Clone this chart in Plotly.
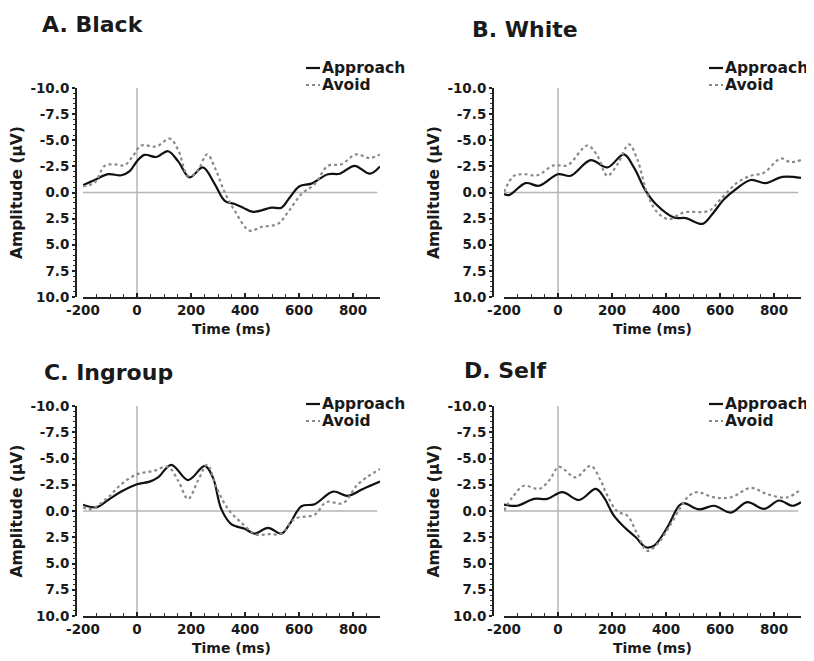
import plotly.graph_objects as go

W, H = 814, 661
PAGE_OFFSET = 8  # the page body margin shifts the figure by 8 px; compensate

# ---------------- data ----------------
panel_titles = ["A. Black", "B. White", "C. Ingroup", "D. Self"]
series_names = ["Approach", "Avoid"]
x_tickvals = [-200, 0, 200, 400, 600, 800]
x_ticktext = ["-200", "0", "200", "400", "600", "800"]
y_tickvals = [-10, -7.5, -5, -2.5, 0, 2.5, 5, 7.5, 10]
y_ticktext = ["-10.0", "-7.5", "-5.0", "-2.5", "0.0", "2.5", "5.0", "7.5", "10.0"]

black_approach_t = [-200, -157, -107, -58, -27, 0, 28, 72, 115, 152, 195, 244, 288, 325, 362, 393, 430, 498, 535, 565, 602, 646, 707, 751, 806, 862, 900]
black_approach_v = [-0.7, -1.2, -1.75, -1.65, -2.05, -3.0, -3.6, -3.4, -3.95, -3.0, -1.45, -2.4, -0.8, 0.8, 1.1, 1.45, 1.85, 1.45, 1.45, 0.5, -0.6, -0.85, -1.75, -1.8, -2.55, -1.8, -2.5]
black_avoid_t = [-200, -157, -120, -83, -46, -15, 16, 72, 121, 152, 189, 220, 260, 288, 325, 362, 417, 460, 522, 559, 609, 658, 707, 757, 812, 862, 900]
black_avoid_v = [-0.6, -0.95, -2.55, -2.7, -2.6, -3.5, -4.5, -4.4, -5.15, -4.1, -1.6, -1.9, -3.65, -2.4, 0.0, 1.75, 3.65, 3.3, 3.0, 1.9, 0.15, -0.8, -2.55, -2.7, -3.65, -3.3, -3.65]

white_approach_t = [-200, -181, -120, -70, 0, 47, 121, 183, 244, 281, 325, 362, 430, 473, 535, 572, 615, 658, 714, 769, 831, 900]
white_approach_v = [0.15, 0.25, -0.9, -0.65, -1.75, -1.6, -3.1, -2.4, -3.65, -2.4, -0.15, 1.1, 2.4, 2.45, 3.0, 2.05, 0.65, -0.3, -1.2, -0.9, -1.5, -1.4]
white_avoid_t = [-200, -163, -126, -77, -15, 35, 109, 146, 183, 220, 263, 294, 331, 368, 410, 467, 559, 602, 664, 714, 763, 825, 862, 900]
white_avoid_v = [-0.05, -1.6, -1.75, -1.65, -2.6, -2.6, -4.5, -3.5, -1.6, -2.7, -4.6, -3.15, 0.15, 1.9, 2.55, 1.9, 1.75, 0.65, -0.95, -1.6, -1.9, -3.25, -2.9, -3.1]

ingroup_approach_t = [-200, -151, -107, -58, 0, 47, 78, 127, 189, 251, 281, 312, 349, 399, 436, 485, 535, 565, 609, 658, 726, 781, 837, 900]
ingroup_approach_v = [-0.6, -0.35, -1.05, -1.85, -2.55, -2.8, -3.2, -4.4, -2.95, -4.3, -3.2, -0.2, 1.25, 1.7, 2.15, 1.6, 2.15, 1.25, -0.45, -0.65, -1.85, -1.45, -2.1, -2.8]
ingroup_avoid_t = [-200, -169, -107, -58, 0, 59, 115, 152, 189, 226, 260, 294, 337, 386, 442, 485, 535, 584, 658, 701, 763, 818, 900]
ingroup_avoid_v = [-0.35, -0.2, -1.3, -2.55, -3.5, -3.8, -4.2, -2.9, -1.15, -2.9, -4.4, -2.25, -0.2, 1.1, 2.25, 2.2, 2.15, 0.75, 0.35, -0.85, -0.75, -2.55, -4.0]

self_approach_t = [-200, -151, -89, -40, 16, 78, 140, 170, 207, 244, 288, 325, 356, 405, 448, 467, 522, 578, 640, 701, 763, 819, 868, 900]
self_approach_v = [-0.6, -0.5, -1.15, -1.15, -1.8, -1.05, -2.1, -1.3, 0.45, 1.5, 2.5, 3.45, 3.3, 1.55, -0.5, -0.75, -0.15, -0.5, 0.15, -0.85, -0.2, -1.0, -0.5, -0.85]
self_avoid_t = [-200, -169, -126, -70, -33, 4, 65, 121, 158, 183, 220, 257, 294, 331, 368, 411, 454, 485, 516, 578, 640, 714, 775, 849, 900]
self_avoid_v = [-0.05, -1.3, -2.4, -2.1, -2.9, -4.2, -3.2, -4.3, -2.9, -1.45, 0.05, 0.45, 2.2, 3.8, 3.15, 1.55, -0.35, -1.45, -1.8, -1.3, -1.3, -2.2, -1.6, -1.3, -2.1]

panels_data = [
    (black_approach_t, black_approach_v, black_avoid_t, black_avoid_v),
    (white_approach_t, white_approach_v, white_avoid_t, white_avoid_v),
    (ingroup_approach_t, ingroup_approach_v, ingroup_avoid_t, ingroup_avoid_v),
    (self_approach_t, self_approach_v, self_avoid_t, self_avoid_v),
]

# ---------------- layout geometry (screen pixels) ----------------
FONT = "DejaVu Sans"
INK = "#1a1a1a"
APPROACH_STYLE = dict(color="#111111", width=2.2)
AVOID_STYLE = dict(color="#8a8a8a", width=2.2, dash="dot")
# (x0, x1, yaxis_x, y_top, y_bottom, title_x, title_y, legend_x, legend_y1, legend_y2)
geom = [
    (83, 380, 76, 88, 297, 40, 24, 322, 68, 85),
    (504, 801, 493, 88, 297, 470, 30, 725, 68, 85),
    (83, 380, 76, 406, 616, 42, 373, 322, 404, 421),
    (504, 801, 493, 406, 616, 462, 370, 725, 404, 421),
]

def fx(px):
    return (px - PAGE_OFFSET) / W

def fy(py):
    return 1 - (py - PAGE_OFFSET) / H

fig = go.Figure()
layout = dict(
    width=W, height=H,
    margin=dict(l=0, r=0, t=0, b=0, pad=0, autoexpand=False),
    paper_bgcolor="white", plot_bgcolor="white",
    showlegend=False,
    font=dict(family=FONT, color=INK),
)
annotations = []
shapes = []

for i, (data, g, title) in enumerate(zip(panels_data, geom, panel_titles)):
    n = i + 1
    xa = "x" if n == 1 else f"x{n}"
    ya = "y" if n == 1 else f"y{n}"
    xkey = "xaxis" if n == 1 else f"xaxis{n}"
    ykey = "yaxis" if n == 1 else f"yaxis{n}"
    x0, x1, yx, yt, yb, tx, ty, lx, ly1, ly2 = g
    at, av, vt, vv = data

    fig.add_trace(go.Scatter(
        x=at, y=av, xaxis=xa, yaxis=ya, mode="lines", name=series_names[0],
        line=dict(**APPROACH_STYLE, shape="spline", smoothing=1.0), hoverinfo="skip"))
    fig.add_trace(go.Scatter(
        x=vt, y=vv, xaxis=xa, yaxis=ya, mode="lines", name=series_names[1],
        line=dict(**AVOID_STYLE, shape="spline", smoothing=1.0), hoverinfo="skip"))

    layout[xkey] = dict(
        domain=[fx(x0), fx(x1)], range=[-200, 900], anchor=ya, automargin=False,
        showgrid=False, zeroline=False, showline=True, linecolor="#222", linewidth=2,
        tickmode="array", tickvals=x_tickvals, ticktext=x_ticktext,
        ticks="inside", ticklen=4, tickwidth=1.5, tickcolor="#222",
        minor=dict(dtick=50, tick0=0, ticks="inside", ticklen=3, tickwidth=1.2, tickcolor="#333"),
        tickfont=dict(family=FONT, size=13.5, color=INK, weight="bold"),
        title=dict(text="Time (ms)", standoff=7,
                   font=dict(family=FONT, size=14, color=INK, weight="bold")),
    )
    layout[ykey] = dict(
        domain=[fy(yb), fy(yt)], range=[10, -10], anchor="free", position=fx(yx),
        automargin=False,
        showgrid=False, zeroline=False, showline=True, linecolor="#222", linewidth=2,
        tickmode="array", tickvals=y_tickvals, ticktext=y_ticktext,
        ticks="outside", ticklen=3, tickwidth=1.5, tickcolor="#222",
        minor=dict(dtick=0.5, tick0=0, ticks="outside", ticklen=2, tickwidth=1.2, tickcolor="#333"),
        tickfont=dict(family=FONT, size=13.5, color=INK, weight="bold"),
        title=dict(text="Amplitude (\u03bcV)", standoff=3,
                   font=dict(family=FONT, size=15.5, color=INK, weight="bold")),
    )

    # panel title
    annotations.append(dict(
        text=title, xref="paper", yref="paper", x=fx(tx), y=fy(ty),
        xanchor="left", yanchor="middle", showarrow=False,
        font=dict(family=FONT, size=22, color=INK, weight="bold")))

    # legend (text + line samples)
    for name, ly, style in ((series_names[0], ly1, APPROACH_STYLE), (series_names[1], ly2, AVOID_STYLE)):
        annotations.append(dict(
            text=name, xref="paper", yref="paper", x=fx(lx), y=fy(ly),
            xanchor="left", yanchor="middle", showarrow=False, xshift=-2,
            font=dict(family=FONT, size=15.5, color=INK, weight="bold")))
        shapes.append(dict(type="line", xref="paper", yref="paper",
                           x0=fx(lx - 16), x1=fx(lx - 2), y0=fy(ly), y1=fy(ly),
                           line=style))

    # reference lines at 0 ms and 0 µV
    shapes.append(dict(type="line", xref=xa, yref=ya, x0=0, x1=0, y0=-10.6, y1=10,
                       line=dict(color="#b5b5b5", width=1.5), layer="below"))
    shapes.append(dict(type="line", xref=xa, yref=ya, x0=-200, x1=890, y0=0, y1=0,
                       line=dict(color="#b5b5b5", width=1.5), layer="below"))

layout["annotations"] = annotations
layout["shapes"] = shapes
fig.update_layout(**layout)

fig.write_html("out.html")
